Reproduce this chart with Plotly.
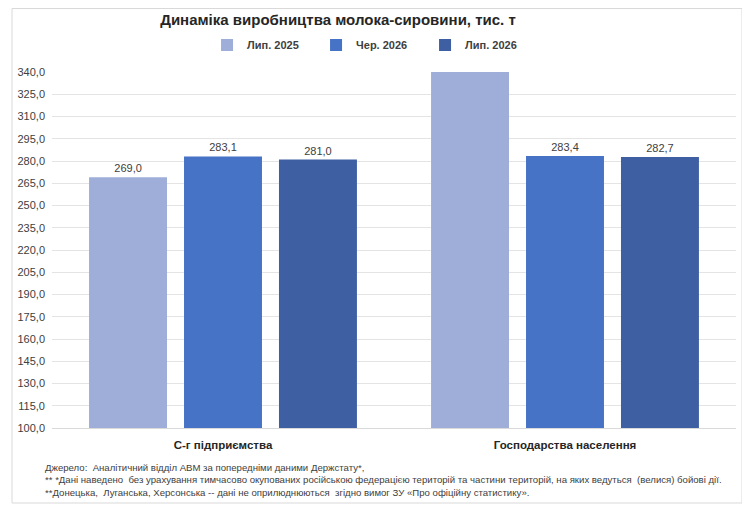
import plotly.graph_objects as go

# data
categories = ["С-г підприємства", "Господарства населення"]
series_names = ["Лип. 2025", "Чер. 2026", "Лип. 2026"]
jul_2025 = [269.0, 345.0]  # second bar goes beyond the axis top, value not shown
jun_2026 = [283.1, 283.4]
jul_2026 = [281.0, 282.7]
tick_vals = [100 + 15 * i for i in range(17)]

colors = ["#9EAED8", "#4773C6", "#3F5FA3"]
y_max = 340

footnote = ("Джерело:  Аналітичний відділ АВМ за попередніми даними Держстату*,<br>"
            "** *Дані наведено  без урахування тимчасово окупованих російською федерацією територій та частини територій, на яких ведуться  (велися) бойові дії.<br>"
            "**Донецька,  Луганська, Херсонська -- дані не оприлюднюються  згідно вимог ЗУ «Про офіційну статистику».")

font = "Liberation Sans"
W, H = 750, 515
L, T, PW, PH = 44, 64, 684, 356  # plot area in figure pixels


def px_x(v):
    return (v - L) / PW


def px_y(v):
    return (T + PH - v) / PH


fig = go.Figure()
for name, vals, col in zip(series_names, [jul_2025, jun_2026, jul_2026], colors):
    labels = [f"{v:.1f}".replace(".", ",") if v <= y_max else "" for v in vals]
    fig.add_trace(go.Bar(
        x=categories, y=vals, name=name,
        marker=dict(color=col, line=dict(width=0)),
        text=labels, textposition="outside",
        textfont=dict(size=11, color="#404040", family=font),
        cliponaxis=True,
    ))

fig.update_layout(
    width=W, height=H,
    margin=dict(l=L, r=W - L - PW, t=T, b=H - T - PH),
    paper_bgcolor="white", plot_bgcolor="white",
    barmode="group", bargap=0.167, bargroupgap=0.179,
    separators=", ",
    font=dict(family=font, color="#404040"),
    title=dict(text="<b>Динаміка виробництва молока-сировини, тис. т</b>",
               x=330 / W, xanchor="center", y=1 - 12 / H, yanchor="middle",
               font=dict(size=15, color="#262626", family=font)),
    legend=dict(orientation="h", x=170 / W, xanchor="left",
                yref="container", y=1 - 37 / H, yanchor="middle",
                font=dict(size=11, color="#404040", family=font, weight="bold"),
                entrywidth=64, entrywidthmode="pixels",
                itemwidth=30, traceorder="normal"),
    showlegend=True,
)
fig.update_xaxes(showgrid=False, showline=True, linecolor="#D9D9D9", ticks="",
                 tickfont=dict(size=11.5, color="#262626", family=font),
                 ticklabelstandoff=6, automargin=False)
fig.update_yaxes(range=[100, y_max], tickvals=tick_vals, tickformat=".1f",
                 showgrid=True, gridcolor="#E4E4E4", zeroline=False, showline=False,
                 tickfont=dict(size=11, color="#404040", family=font),
                 ticks="", ticklabelstandoff=6, automargin=False)

# bold category labels
fig.update_xaxes(tickvals=categories, ticktext=[f"<b>{c}</b>" for c in categories])

fig.add_annotation(text=footnote, xref="paper", yref="paper",
                   x=px_x(35), y=px_y(452), xanchor="left", yanchor="top",
                   align="left", showarrow=False,
                   font=dict(size=9.6, color="#404040", family=font))

# outer frame
fig.add_shape(type="rect", xref="paper", yref="paper",
              x0=px_x(4), x1=px_x(734), y0=px_y(495), y1=px_y(0.5),
              line=dict(color="#D9D9D9", width=1), fillcolor="rgba(0,0,0,0)", layer="below")

fig.write_html("out.html")
